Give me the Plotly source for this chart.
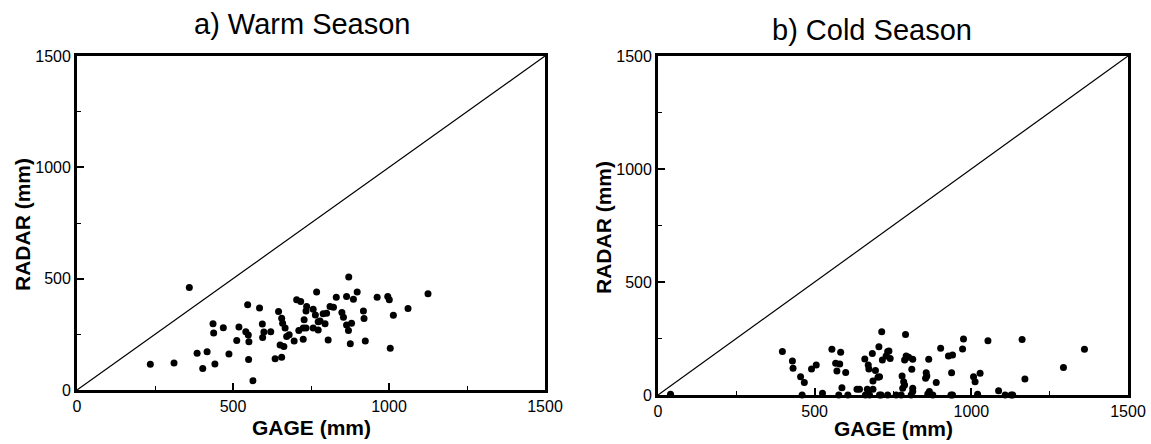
import plotly.graph_objects as go

# ---- data ----
warm_gage = [360, 235, 311, 385, 417, 403, 442, 436, 438, 469, 487, 512, 519, 541, 547, 549, 551, 550, 564,
             585, 594, 595, 599, 621, 635, 656, 646, 651, 663, 656, 659, 667, 672, 680, 696, 704, 717, 711,
             725, 728, 734, 736, 734, 757, 764, 768, 757, 773, 773, 871, 831, 864, 898, 886, 962, 996, 1001,
             1125, 1061, 1014, 918, 920, 811, 822, 800, 789, 849, 854, 864, 880, 870, 779, 795, 805, 876,
             924, 1004, 725]
warm_radar = [460, 116, 121, 165, 172, 97, 117, 298, 256, 280, 162, 222, 283, 262, 383, 247, 217, 137, 42,
              368, 296, 236, 260, 262, 140, 147, 352, 202, 195, 322, 300, 278, 240, 248, 220, 405, 397, 267,
              228, 315, 355, 375, 278, 363, 337, 440, 278, 307, 270, 507, 417, 420, 440, 408, 417, 420, 405,
              432, 366, 336, 355, 321, 375, 372, 345, 342, 348, 327, 292, 300, 267, 310, 297, 225, 208,
              220, 187, 278]

cold_gage = [40, 397, 429, 431, 455, 467, 490, 505, 525, 460, 555, 583, 567, 580, 571, 599, 587, 577, 606,
             635, 643, 660, 671, 673, 684, 705, 714, 694, 702, 686, 716, 728, 733, 668, 686, 662, 675, 707,
             733, 790, 737, 707, 792, 800, 813, 787, 810, 779, 784, 787, 781, 813, 813, 776, 808, 760, 712,
             864, 856, 858, 854, 888, 866, 861, 877, 902, 927, 940, 975, 972, 937, 935, 940, 1053, 1028,
             1007, 1012, 1020, 1087, 1108, 1127, 1132, 1162, 1171, 1294, 1361, 741]
cold_radar = [3, 192, 150, 118, 81, 55, 115, 133, 8, 0, 202, 189, 140, 137, 106, 100, 32, 0, 0,
              25, 25, 159, 133, 115, 184, 214, 280, 108, 78, 62, 155, 173, 192, 25, 25, 0, 0, 0,
              0, 268, 195, 81, 173, 167, 158, 155, 114, 84, 59, 44, 30, 30, 15, 0, 0, 0, 0,
              158, 99, 84, 74, 55, 15, 4, 0, 207, 173, 177, 248, 204, 99, 0, 0, 240, 96,
              81, 59, 3, 19, 0, 0, 0, 246, 71, 122, 202, 162]

one_to_one = [0, 1500]
tick_vals = [0, 500, 1000, 1500]
tick_text = ["0", "500", "1000", "1500"]

W, H = 1151, 444
FONT = "Liberation Sans, Arial, Helvetica, sans-serif"

fig = go.Figure()

for ax, gx, ry in [("", warm_gage, warm_radar), ("2", cold_gage, cold_radar)]:
    fig.add_trace(go.Scatter(x=one_to_one, y=one_to_one, mode="lines",
                             line=dict(color="black", width=1.2),
                             xaxis="x" + ax, yaxis="y" + ax, showlegend=False, hoverinfo="skip"))
    fig.add_trace(go.Scatter(x=gx, y=ry, mode="markers",
                             marker=dict(color="black", size=7),
                             xaxis="x" + ax, yaxis="y" + ax, showlegend=False, cliponaxis=False))

def axis_style(domain, anchor):
    return dict(domain=domain, anchor=anchor, range=[0, 1500], autorange=False,
                tickvals=tick_vals, ticktext=tick_text, ticks="inside", ticklen=7, tickwidth=1.5,
                tickcolor="black", showline=True, linecolor="black", linewidth=2.8, mirror=True,
                showgrid=False, zeroline=False, automargin=False,
                minor=dict(ticks="inside", ticklen=4, tickwidth=1.2, tickcolor="black", dtick=250,
                           tick0=0, showgrid=False),
                tickfont=dict(family=FONT, size=16, color="black"))

fig.update_layout(
    width=W, height=H, autosize=False,
    margin=dict(l=0, r=0, t=0, b=0, pad=0),
    paper_bgcolor="white", plot_bgcolor="white",
    xaxis=axis_style([77 / W, 545 / W], "y"),
    yaxis=axis_style([1 - 390 / H, 1 - 56 / H], "x"),
    xaxis2=axis_style([658 / W, 1128 / W], "y2"),
    yaxis2=axis_style([1 - 395 / H, 1 - 56 / H], "x2"),
)

def ann(text, x, y, size, bold=False, angle=0):
    fig.add_annotation(text=("<b>%s</b>" % text) if bold else text,
                       x=x / W, y=1 - y / H, xref="paper", yref="paper",
                       xanchor="center", yanchor="middle", showarrow=False, textangle=angle,
                       font=dict(family=FONT, size=size, color="black"))

ann("a) Warm Season", 302, 24, 29)
ann("b) Cold Season", 872, 30, 29)
ann("GAGE (mm)", 311, 427, 21, bold=True)
ann("GAGE (mm)", 893, 428, 21, bold=True)
ann("RADAR (mm)", 22, 225, 21, bold=True, angle=-90)
ann("RADAR (mm)", 603, 228, 21, bold=True, angle=-90)

fig.write_html("out.html", config={"displayModeBar": False},
               post_script="document.body.style.margin='0';document.body.style.overflow='hidden';")
